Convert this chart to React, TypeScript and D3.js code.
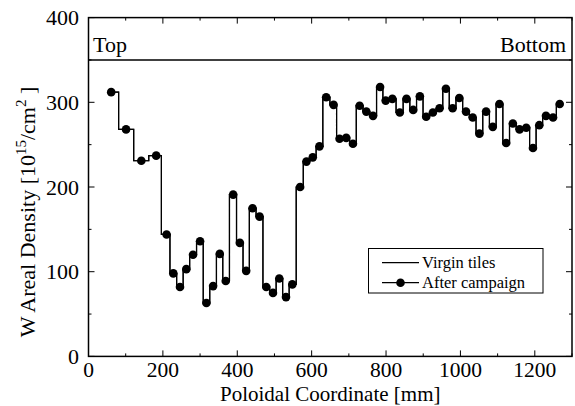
import React from 'react';
import * as d3 from 'd3';

const positions = [61,101,142,182,210,228,246,263,281,300,317,335,353,369,389,407,424,441,460,478,496,513,531,548,569,586,603,621,639,659,675,693,711,729,747,765,784,799,817,837,855,873,891,908,926,944,961,979,997,1015,1033,1051,1069,1087,1105,1123,1141,1159,1177,1195,1212,1230,1249,1267];
const virginTiles = [312,268,231,237,144,98,82,103,120,136,63,83,121,89,191,134,101,175,165,82,75,92,70,85,200,230,235,248,306,297,257,258,251,296,289,284,318,302,304,288,304,291,307,283,288,293,316,293,305,289,282,263,289,271,298,252,275,268,270,246,273,284,282,298];
const afterCampaign = [312,268,231,237,144,98,82,103,120,136,63,83,121,89,191,134,101,175,165,82,75,92,70,85,200,230,235,248,306,297,257,258,251,296,289,284,318,302,304,288,304,291,307,283,288,293,316,293,305,289,282,263,289,271,298,252,275,268,270,246,273,284,282,298];
const xMajorTicks = [0,200,400,600,800,1000,1200];
const xMinorTicks = [100,300,500,700,900,1100,1300];
const yMajorTicks = [0,100,200,300,400];
const yMinorTicks = [50,150,250,350];
const dividerValue = 350;
const legendLabels = ['Virgin tiles', 'After campaign'];

const W = 575, H = 406;
const L = 88.5, R = 572, T = 17.6, B = 356.4;
const FONT = '"Liberation Serif", "Times New Roman", serif';

export default function App() {
  const x = d3.scaleLinear().domain([0, 1300]).range([L, R]);
  const y = d3.scaleLinear().domain([0, 400]).range([B, T]);
  const virginPts: [number, number][] = positions.map((p, i) => [p, virginTiles[i]]);
  const afterPts: [number, number][] = positions.map((p, i) => [p, afterCampaign[i]]);
  const stepLine = d3.line<[number, number]>()
    .x(d => x(d[0])).y(d => y(d[1])).curve(d3.curveStep);
  const afterLine = d3.line<[number, number]>()
    .x(d => x(d[0])).y(d => y(d[1])).curve(d3.curveStep);

  const tickStroke = { stroke: '#000', strokeWidth: 1 };
  const major = 6, minor = 3;

  return (
    <svg width={W} height={H} style={{ position: 'absolute', left: 0, top: 0, background: '#fff' }}
      fontFamily={FONT}>
      <rect x={0} y={0} width={W} height={H} fill="#fff" />
      {xMajorTicks.map(t => (
        <g key={'xM' + t}>
          <line x1={x(t)} x2={x(t)} y1={B} y2={B - major} {...tickStroke} />
          <line x1={x(t)} x2={x(t)} y1={T} y2={T + major} {...tickStroke} />
        </g>
      ))}
      {xMinorTicks.map(t => (
        <g key={'xm' + t}>
          <line x1={x(t)} x2={x(t)} y1={B} y2={B - minor} {...tickStroke} />
          <line x1={x(t)} x2={x(t)} y1={T} y2={T + minor} {...tickStroke} />
        </g>
      ))}
      {yMajorTicks.map(t => (
        <g key={'yM' + t}>
          <line x1={L} x2={L + major} y1={y(t)} y2={y(t)} {...tickStroke} />
          <line x1={R} x2={R - major} y1={y(t)} y2={y(t)} {...tickStroke} />
        </g>
      ))}
      {yMinorTicks.map(t => (
        <g key={'ym' + t}>
          <line x1={L} x2={L + minor} y1={y(t)} y2={y(t)} {...tickStroke} />
          <line x1={R} x2={R - minor} y1={y(t)} y2={y(t)} {...tickStroke} />
        </g>
      ))}
      <rect x={L} y={T} width={R - L} height={B - T} fill="none" stroke="#000" strokeWidth={1.5} />
      <line x1={L} x2={R} y1={y(dividerValue)} y2={y(dividerValue)} stroke="#000" strokeWidth={1.5} />
      <text x={L + 4.5} y={y(dividerValue) - 8} fontSize={22}>Top</text>
      <text x={R - 6} y={y(dividerValue) - 8} fontSize={22} textAnchor="end">Bottom</text>

      {xMajorTicks.map(t => (
        <text key={'xl' + t} x={x(t)} y={377} fontSize={21.5} textAnchor="middle">{t}</text>
      ))}
      {yMajorTicks.map(t => (
        <text key={'yl' + t} x={79} y={y(t) + 7.5} fontSize={22} textAnchor="end">{t}</text>
      ))}

      <text x={(L + R) / 2} y={400.5} fontSize={21} textAnchor="middle">Poloidal Coordinate [mm]</text>
      <text transform={`translate(35,${212}) rotate(-90)`} fontSize={22} textAnchor="middle">
        W Areal Density [10<tspan fontSize={15} dy={-9}>15</tspan><tspan dy={9}>/cm</tspan><tspan fontSize={15} dy={-9}>2</tspan><tspan dy={9}> ]</tspan>
      </text>

      <path d={stepLine(virginPts) || ''} fill="none" stroke="#000" strokeWidth={1.2} />
      <path d={afterLine(afterPts) || ''} fill="none" stroke="#000" strokeWidth={1.2} />
      {afterPts.map((d, i) => (
        <circle key={i} cx={x(d[0])} cy={y(d[1])} r={4.3} fill="#000" />
      ))}

      <rect x={368.5} y={248.5} width={174.5} height={44.5} fill="#fff" stroke="#000" strokeWidth={1} />
      <line x1={382} x2={419} y1={262.7} y2={262.7} stroke="#000" strokeWidth={1.2} />
      <text x={422} y={268} fontSize={16.5}>{legendLabels[0]}</text>
      <line x1={382} x2={419} y1={282.7} y2={282.7} stroke="#000" strokeWidth={1.2} />
      <circle cx={400.5} cy={282.7} r={4.3} fill="#000" />
      <text x={422} y={288} fontSize={16.5}>{legendLabels[1]}</text>
    </svg>
  );
}
